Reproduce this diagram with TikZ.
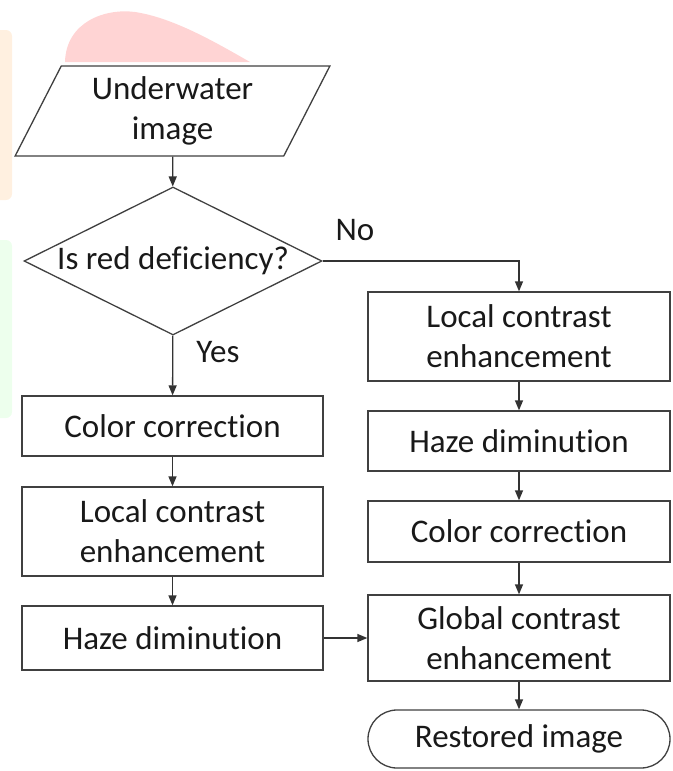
\documentclass[tikz,border=0pt]{standalone}
\usepackage{fontspec}
\setmainfont{Carlito}[Ligatures={NoCommon}]
\usetikzlibrary{shapes.geometric,arrows.meta}

\begin{document}
\begin{tikzpicture}[x=1pt,y=-1pt,>={Triangle[width=8pt,length=10pt]},
    every node/.style={font=\fontsize{33}{40}\selectfont,text=black!90},
    box/.style={draw=black!75,line width=1.3pt,fill=white,minimum width=301pt,inner sep=0pt,align=center},
    flow/.style={->,draw=black!80,line width=1.3pt}]
 %   \useasboundingbox keeps the page size
    \useasboundingbox (0,0) rectangle (672,771);
    \fill[red!17] (65,62) .. controls (66,22) and (105,8) .. (135,12) .. controls (175,18) and (220,45) .. (250,62) -- cycle;
    \fill[orange!12,rounded corners=6pt] (-10,30) rectangle (12,200);
    \fill[green!7,rounded corners=6pt] (-10,240) rectangle (12,418);

    \node[box,shape=trapezium,trapezium left angle=64,trapezium right angle=116,trapezium stretches=true,minimum width=315pt,minimum height=90pt] (in) at (172.5,111) {Underwater\\image};
    \node[box,shape=diamond,minimum width=298pt,minimum height=148pt] (dec) at (173,261) {\makebox[0pt]{Is red deficiency?}};
    \node (no) at (355,230) {No};
    \node (yes) at (218,352) {Yes};

    \node[box,minimum height=60pt] (lcc) at (172.5,426) {Color correction};
    \node[box,minimum height=89pt] (llce) at (172.5,531.5) {Local contrast\\enhancement};
    \node[box,minimum height=64pt] (lhd) at (172.5,638) {Haze diminution};

    \node[box,minimum width=302pt,minimum height=89pt] (rlce) at (519,336.5) {Local contrast\\enhancement};
    \node[box,minimum width=302pt,minimum height=60pt] (rhd) at (519,441) {Haze diminution};
    \node[box,minimum width=302pt,minimum height=61pt] (rcc) at (519,531.5) {Color correction};
    \node[box,minimum width=302pt,minimum height=86pt] (gce) at (519,638) {Global contrast\\enhancement};
    \node[box,minimum width=302pt,minimum height=58pt,rounded corners=29pt] (out) at (519,739) {Restored image};

    \draw[flow] (in) -- (dec);
    \draw[flow] (dec.east) -| (rlce.north);
    \draw[flow] (dec) -- (lcc);
    \draw[flow] (lcc) -- (llce);
    \draw[flow] (llce) -- (lhd);
    \draw[flow] (lhd) -- (gce);
    \draw[flow] (rlce) -- (rhd);
    \draw[flow] (rhd) -- (rcc);
    \draw[flow] (rcc) -- (gce);
    \draw[flow] (gce) -- (out);

\end{tikzpicture}
\end{document}
